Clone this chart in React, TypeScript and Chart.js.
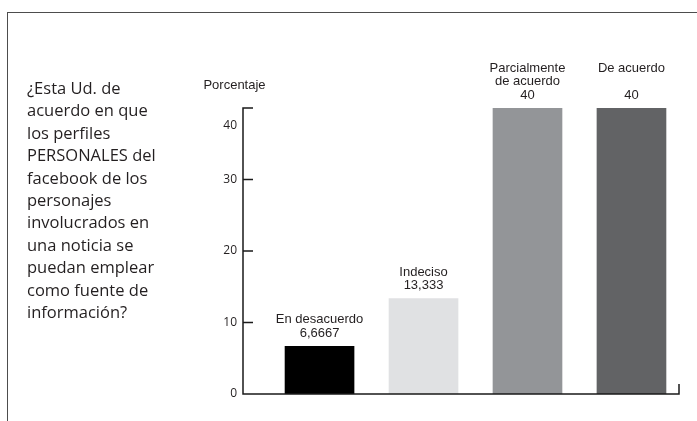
import { useEffect, useRef } from "react";
import { Chart, registerables } from "chart.js";

Chart.register(...registerables);

const categories = ["En desacuerdo", "Indeciso", "Parcialmente\nde acuerdo", "De acuerdo\n"];
const values = [6.6667, 13.333, 40, 40];
const barColors = ["#000000", "#e0e1e3", "#939598", "#626365"];
const yTicks = [0, 10, 20, 30, 40];
const yAxisTitle = "Porcentaje";
const questionLines = [
  "¿Esta Ud. de",
  "acuerdo en que",
  "los perfiles",
  "PERSONALES del",
  "facebook de los",
  "personajes",
  "involucrados en",
  "una noticia se",
  "puedan emplear",
  "como fuente de",
  "información?",
];

const fmt = (v: number) => String(Number(v.toPrecision(5))).replace(".", ",");

const decoPlugin = {
  id: "deco",
  afterDraw(chart: any) {
    const { ctx, chartArea, scales } = chart;
    const y = scales.y;
    const yMax = yTicks[yTicks.length - 1];
    const left = chartArea.left;
    const right = chartArea.right;
    const bottom = y.getPixelForValue(0);
    const top = y.getPixelForValue(yMax);
    ctx.save();
    ctx.strokeStyle = "#1a1a1a";
    ctx.lineWidth = 1.5;
    ctx.beginPath();
    ctx.moveTo(left + 10, top);
    ctx.lineTo(left, top);
    ctx.lineTo(left, bottom);
    ctx.lineTo(right, bottom);
    ctx.lineTo(right, bottom - 10);
    ctx.stroke();
    ctx.beginPath();
    yTicks.forEach((t) => {
      if (t > 0 && t < yMax) {
        const py = y.getPixelForValue(t);
        ctx.moveTo(left, py);
        ctx.lineTo(left + 10, py);
      }
    });
    ctx.stroke();

    ctx.fillStyle = "#231f20";
    ctx.font = '12px "Open Sans"';
    ctx.textAlign = "right";
    ctx.textBaseline = "middle";
    yTicks.forEach((t) => {
      const py = y.getPixelForValue(t) + (t === yMax ? 18 : 0);
      ctx.fillText(String(t), left - 6, py);
    });

    ctx.font = '13px "Liberation Sans"';
    ctx.textAlign = "center";
    ctx.fillText(yAxisTitle, left - 8.5, top - 23);

    const meta = chart.getDatasetMeta(0);
    meta.data.forEach((bar: any, i: number) => {
      const lines = [...categories[i].split("\n"), fmt(values[i])];
      const n = lines.length;
      const lh = 13.5;
      lines.forEach((line, k) => {
        const cy = bar.y - 13 - (n - 1 - k) * lh;
        ctx.fillText(line, bar.x, cy);
      });
    });
    ctx.restore();
  },
};

export default function App() {
  const ref = useRef<HTMLCanvasElement>(null);
  useEffect(() => {
    if (!ref.current) return;
    const chart = new Chart(ref.current, {
      type: "bar",
      data: {
        datasets: [
          {
            data: values.map((v, i) => ({ x: i + 1, y: v })),
            backgroundColor: barColors,
            borderWidth: 0,
            barThickness: 69,
          },
        ],
      },
      options: {
        animation: false,
        responsive: false,
        maintainAspectRatio: false,
        layout: { padding: { left: 243, right: 18, top: 108, bottom: 27 } },
        plugins: { legend: { display: false }, tooltip: { enabled: false } },
        scales: {
          x: { type: "linear", min: 0.264, max: 4.457, offset: false, display: false },
          y: { min: 0, max: 40, display: false },
        },
      },
      plugins: [decoPlugin],
    } as any);
    return () => chart.destroy();
  }, []);

  return (
    <div style={{ position: "fixed", left: 0, top: 0, width: 697, height: 421, background: "#fff", overflow: "hidden" }}>
      <div
        style={{
          position: "absolute",
          left: 7,
          top: 12,
          right: -5,
          bottom: -5,
          borderTop: "1.5px solid #4d4d4d",
          borderLeft: "1.5px solid #4d4d4d",
        }}
      />
      <canvas ref={ref} width={697} height={421} style={{ position: "absolute", left: 0, top: 0, width: 697, height: 421 }} />
      <div
        style={{
          position: "absolute",
          left: 27,
          top: 77,
          fontFamily: '"Open Sans"',
          fontSize: 16.5,
          lineHeight: "22.4px",
          color: "#231f20",
          whiteSpace: "nowrap",
        }}
      >
        {questionLines.map((l, i) => (
          <div key={i}>{l}</div>
        ))}
      </div>
    </div>
  );
}
